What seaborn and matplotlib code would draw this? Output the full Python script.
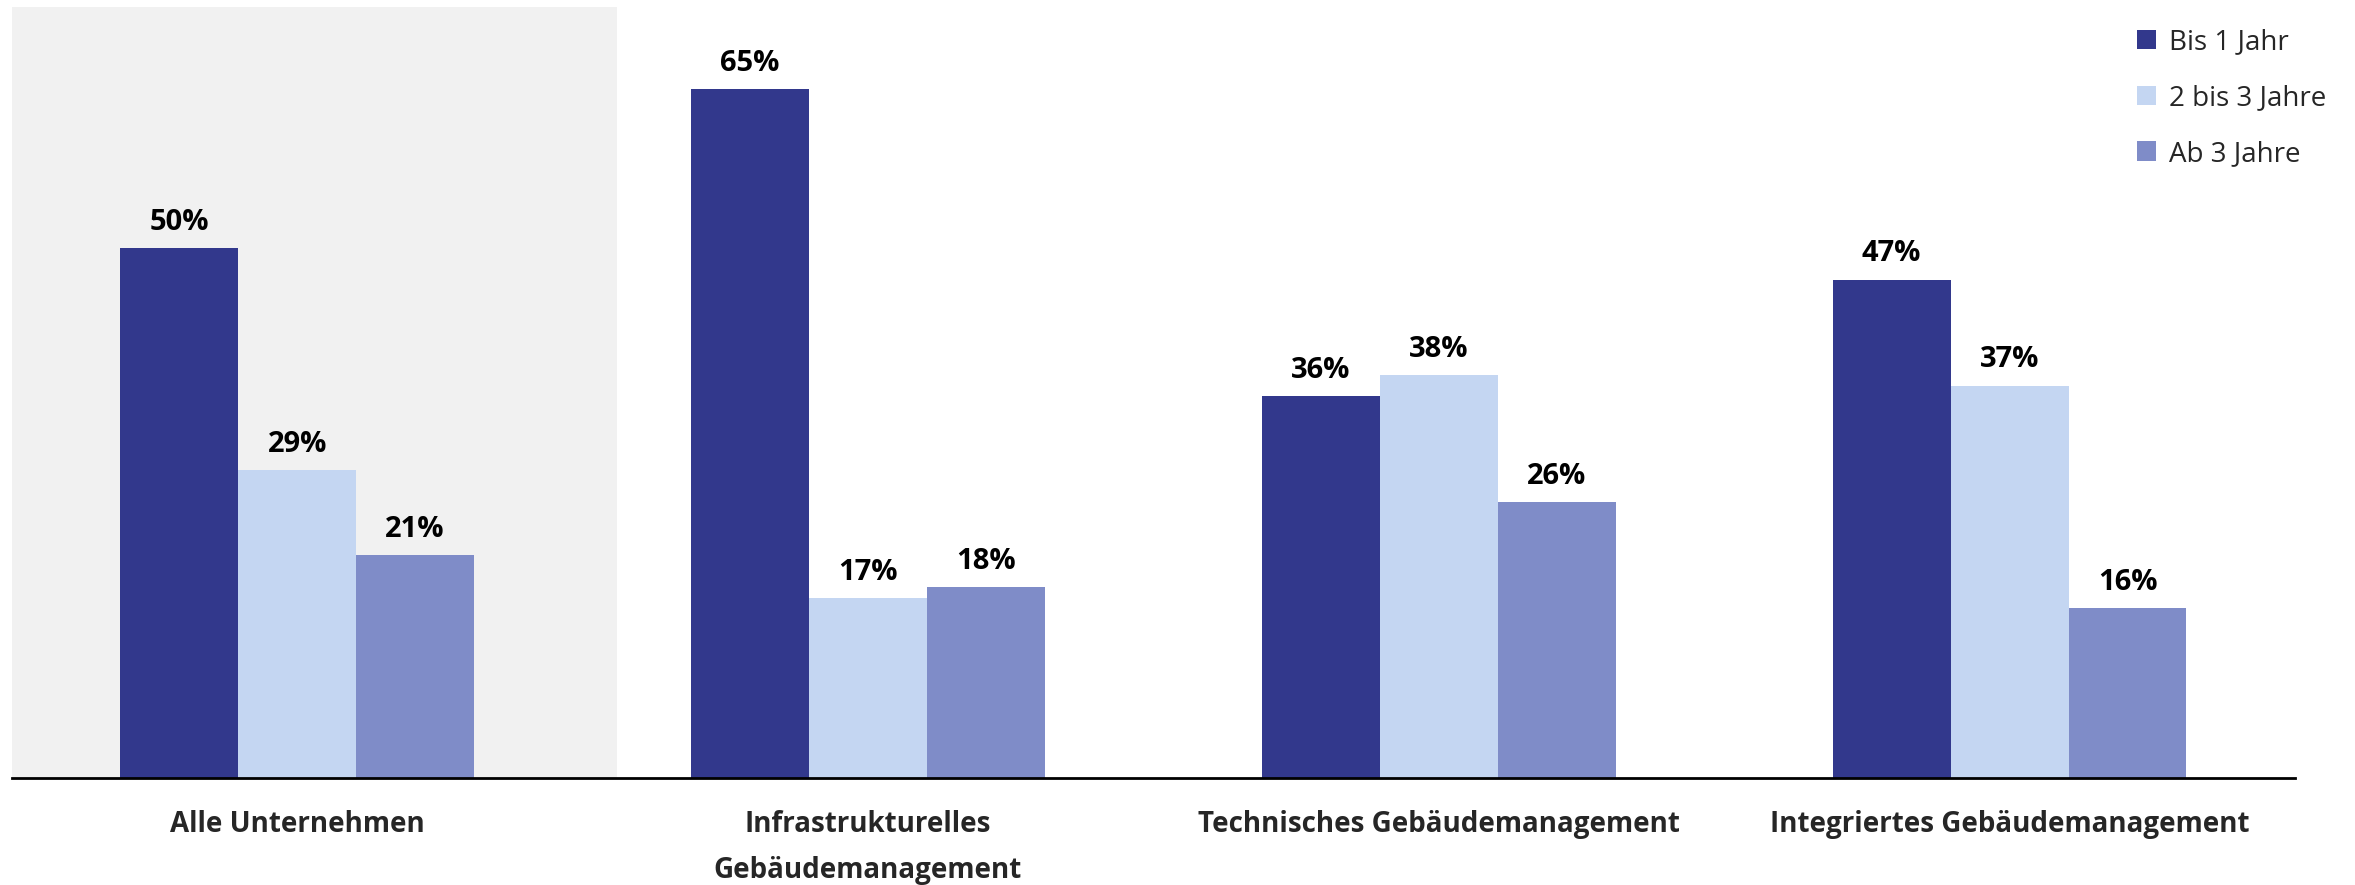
import matplotlib
matplotlib.use("Agg")
import matplotlib.pyplot as plt
import seaborn as sns
import pandas as pd

categories = ["Alle Unternehmen", "Infrastrukturelles\nGebäudemanagement",
              "Technisches Gebäudemanagement", "Integriertes Gebäudemanagement"]
series = ["Bis 1 Jahr", "2 bis 3 Jahre", "Ab 3 Jahre"]
bis_1_jahr = [50, 65, 36, 47]
zwei_bis_3 = [29, 17, 38, 37]
ab_3_jahre = [21, 18, 26, 16]
colors = ["#32388C", "#C4D6F2", "#7F8CC8"]

rows = []
for s, vals in zip(series, [bis_1_jahr, zwei_bis_3, ab_3_jahre]):
    for c, v in zip(categories, vals):
        rows.append({"Kategorie": c, "Dauer": s, "Wert": v})
df = pd.DataFrame(rows)

sns.set_theme(style="white")
plt.rcParams["font.family"] = ["Open Sans", "DejaVu Sans"]

fig = plt.figure(figsize=(23.55, 8.85), dpi=100)
ax = fig.add_axes([0.005, 0.121, 0.9695, 0.871])

ax.axvspan(-0.5, 0.56, color="#F1F1F1", zorder=0, lw=0)

sns.barplot(data=df, x="Kategorie", y="Wert", hue="Dauer", order=categories,
            hue_order=series, palette=colors, width=0.62, saturation=1,
            ax=ax, zorder=2, linewidth=0)

for cont, vals in zip(ax.containers, [bis_1_jahr, zwei_bis_3, ab_3_jahre]):
    ax.bar_label(cont, labels=[f"{v}%" for v in vals], padding=8,
                 fontsize=21, fontweight="bold", color="black")

ax.set_xlim(-0.5, 3.5)
ax.set_ylim(0, 72.7)
ax.set_xlabel("")
ax.set_ylabel("")
ax.set_yticks([])
ax.tick_params(axis="x", length=0, pad=23, labelsize=20)
for lab in ax.get_xticklabels():
    lab.set_fontweight("bold")
    lab.set_linespacing(1.78)
for sp in ["top", "right", "left"]:
    ax.spines[sp].set_visible(False)
ax.spines["bottom"].set_color("black")
ax.spines["bottom"].set_linewidth(2)
ax.patch.set_alpha(0)

handles, labels = ax.get_legend_handles_labels()
ax.get_legend().remove()
fig.legend(handles, labels, loc="upper left", bbox_to_anchor=(0.899, 0.99),
           frameon=False, fontsize=20, handlelength=0.7, handleheight=0.7,
           handletextpad=0.45, labelspacing=1.0, borderaxespad=0.3)

fig.savefig("out.png", dpi=100)
